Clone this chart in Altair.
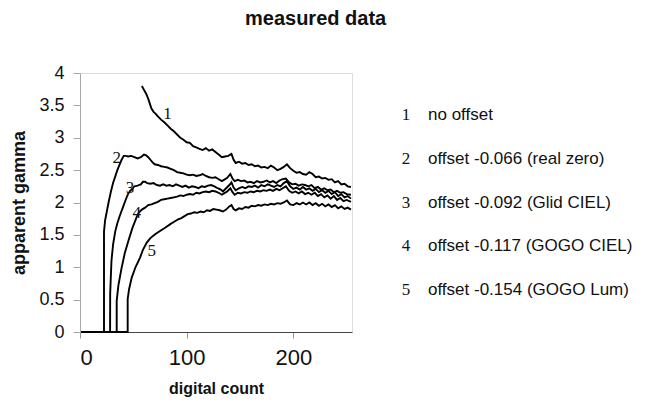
import altair as alt
import pandas as pd

# ---- data ----
c1_x = [58, 60, 62, 64, 66, 67, 69, 71, 73, 76, 79, 82, 85, 88, 91, 94, 97, 100, 103, 106, 109, 112, 115, 118,
        121, 124, 127, 130, 133, 136, 139, 142, 144, 146, 149, 152, 155, 158, 161, 164, 167, 170, 173, 176,
        179, 182, 185, 188, 191, 194, 197, 200, 203, 206, 209, 212, 215, 218, 221, 224, 227, 230, 233, 236,
        239, 242, 245, 248, 251, 254]
c1_y = [3.80, 3.74, 3.68, 3.60, 3.50, 3.45, 3.40, 3.37, 3.33, 3.28, 3.24, 3.19, 3.14, 3.10, 3.05, 3.00, 2.97,
        2.93, 2.92, 2.87, 2.85, 2.83, 2.81, 2.84, 2.80, 2.82, 2.78, 2.74, 2.70, 2.71, 2.72, 2.75, 2.66, 2.61,
        2.63, 2.60, 2.61, 2.58, 2.59, 2.56, 2.57, 2.54, 2.55, 2.53, 2.57, 2.54, 2.50, 2.52, 2.55, 2.59, 2.53,
        2.49, 2.46, 2.47, 2.44, 2.43, 2.47, 2.44, 2.39, 2.40, 2.37, 2.38, 2.35, 2.36, 2.31, 2.33, 2.28, 2.29,
        2.25, 2.24]

c2_x = [1, 22.5, 22.5, 23.5, 25, 27, 29, 31, 33, 35, 37, 39, 41, 43, 45, 48, 51, 54, 57, 60, 62, 64, 66, 68,
        70, 73, 76, 79, 82, 85, 88, 91, 94, 97, 100, 103, 106, 109, 112, 115, 118, 121, 124, 127, 130, 133,
        135, 138, 141, 143, 145, 148, 151, 154, 157, 160, 163, 166, 169, 172, 175, 178, 181, 184, 187, 190,
        193, 196, 199, 202, 205, 208, 211, 214, 217, 220, 223, 226, 229, 232, 235, 238, 241, 244, 247, 250, 254]
c2_y = [0, 0, 1.55, 1.72, 1.85, 2.02, 2.17, 2.30, 2.40, 2.50, 2.58, 2.66, 2.72, 2.72, 2.71, 2.72, 2.70, 2.68,
        2.70, 2.74, 2.73, 2.70, 2.66, 2.62, 2.59, 2.58, 2.56, 2.55, 2.54, 2.52, 2.50, 2.47, 2.46, 2.45, 2.43,
        2.42, 2.43, 2.41, 2.42, 2.44, 2.41, 2.39, 2.38, 2.39, 2.36, 2.33, 2.35, 2.38, 2.44, 2.37, 2.33, 2.35,
        2.33, 2.34, 2.31, 2.32, 2.30, 2.33, 2.31, 2.32, 2.34, 2.31, 2.33, 2.30, 2.34, 2.36, 2.37, 2.31, 2.28,
        2.29, 2.26, 2.28, 2.27, 2.25, 2.27, 2.22, 2.24, 2.20, 2.22, 2.19, 2.20, 2.16, 2.18, 2.15, 2.16, 2.13,
        2.12]

c3_x = [1, 28.2, 28.3, 29.5, 31, 33, 35, 37, 39, 41, 43, 45, 47, 49, 51, 54, 57, 59, 61, 63, 66, 69, 72, 75,
        78, 81, 84, 87, 90, 93, 96, 99, 102, 105, 108, 111, 114, 117, 120, 123, 126, 129, 132, 134, 137, 140,
        142, 144, 146, 149, 152, 155, 158, 161, 164, 167, 170, 173, 176, 179, 182, 185, 188, 191, 194, 197,
        200, 203, 206, 209, 212, 215, 218, 221, 224, 227, 230, 233, 236, 239, 242, 245, 248, 251, 254]
c3_y = [0, 0, 0.60, 1.10, 1.35, 1.55, 1.68, 1.78, 1.87, 1.96, 2.05, 2.13, 2.18, 2.21, 2.25, 2.26, 2.28, 2.32,
        2.32, 2.30, 2.29, 2.30, 2.27, 2.26, 2.28, 2.26, 2.27, 2.25, 2.28, 2.26, 2.24, 2.26, 2.23, 2.25, 2.24,
        2.22, 2.25, 2.24, 2.26, 2.27, 2.25, 2.22, 2.20, 2.17, 2.22, 2.27, 2.31, 2.23, 2.19, 2.22, 2.24, 2.22,
        2.25, 2.24, 2.26, 2.23, 2.27, 2.25, 2.28, 2.26, 2.24, 2.27, 2.25, 2.30, 2.33, 2.25, 2.21, 2.23, 2.20,
        2.24, 2.20, 2.22, 2.18, 2.21, 2.16, 2.19, 2.15, 2.18, 2.13, 2.16, 2.10, 2.13, 2.08, 2.10, 2.06]

c4_x = [1, 34.4, 34.4, 36, 39, 42, 45.4, 49, 53, 55, 58, 61, 64, 67, 70, 73, 76, 79, 82, 85, 88, 91, 94, 97,
        100, 103, 106, 109, 112, 115, 118, 121, 124, 127, 130, 133, 135, 138, 141, 143, 145, 148, 151, 154,
        157, 160, 163, 166, 169, 172, 175, 178, 181, 184, 187, 190, 193, 196, 199, 202, 205, 208, 211, 214,
        217, 220, 223, 226, 229, 232, 235, 238, 241, 244, 247, 250, 254]
c4_y = [0, 0, 0.48, 0.72, 0.99, 1.22, 1.41, 1.60, 1.77, 1.84, 1.89, 1.92, 1.96, 1.97, 1.99, 2.01, 2.04, 2.05,
        2.06, 2.07, 2.08, 2.09, 2.11, 2.10, 2.12, 2.13, 2.12, 2.15, 2.14, 2.16, 2.17, 2.16, 2.18, 2.17, 2.15,
        2.12, 2.14, 2.17, 2.22, 2.16, 2.12, 2.15, 2.14, 2.16, 2.15, 2.17, 2.16, 2.18, 2.17, 2.19, 2.18, 2.20,
        2.18, 2.21, 2.19, 2.22, 2.25, 2.18, 2.15, 2.17, 2.14, 2.17, 2.13, 2.15, 2.12, 2.15, 2.10, 2.13, 2.08,
        2.11, 2.06, 2.10, 2.04, 2.07, 2.02, 2.04, 2.01]

c5_x = [1, 44.7, 44.7, 46, 48.5, 52, 56.3, 59, 62.6, 66, 70.4, 75, 79.8, 85, 89, 92, 95, 98, 101, 104, 107,
        110, 113, 116, 119, 122, 125, 128, 131, 134, 137, 140, 142, 144, 146, 149, 152, 155, 158, 161, 164,
        167, 170, 173, 176, 179, 182, 185, 188, 191, 194, 197, 200, 203, 206, 209, 212, 215, 218, 221, 224,
        227, 230, 233, 236, 239, 242, 245, 248, 251, 254]
c5_y = [0, 0, 0.51, 0.66, 0.84, 1.00, 1.15, 1.27, 1.38, 1.45, 1.51, 1.56, 1.61, 1.67, 1.71, 1.74, 1.76, 1.79,
        1.82, 1.83, 1.85, 1.84, 1.86, 1.85, 1.88, 1.87, 1.90, 1.89, 1.88, 1.86, 1.89, 1.94, 1.96, 1.90, 1.88,
        1.91, 1.90, 1.93, 1.92, 1.95, 1.94, 1.96, 1.95, 1.97, 1.96, 1.98, 1.97, 1.99, 1.98, 2.00, 2.03, 1.97,
        1.96, 1.99, 1.97, 2.00, 1.97, 2.00, 1.96, 1.99, 1.95, 1.98, 1.94, 1.97, 1.93, 1.96, 1.91, 1.94, 1.90,
        1.92, 1.89]

series_ids = ["1", "2", "3", "4", "5"]
legend_text = ["no offset", "offset -0.066 (real zero)", "offset -0.092 (Glid CIEL)",
               "offset -0.117 (GOGO CIEL)", "offset -0.154 (GOGO Lum)"]
label_x = [82.0, 34.5, 46.9, 53.2, 67.3]
label_y = [3.37, 2.69, 2.23, 1.84, 1.25]

x_ticks = [0, 100, 200]
y_ticks = [0, 0.5, 1, 1.5, 2, 2.5, 3, 3.5, 4]

# ---- tables ----
rows = []
for sid, xs_, ys_ in zip(series_ids, [c1_x, c2_x, c3_x, c4_x, c5_x], [c1_y, c2_y, c3_y, c4_y, c5_y]):
    for i, (a, b) in enumerate(zip(xs_, ys_)):
        rows.append({"series": sid, "i": i, "x": a, "y": b})
df = pd.DataFrame(rows)
lab = pd.DataFrame({"series": series_ids, "x": label_x, "y": label_y})
leg = pd.DataFrame({"series": series_ids, "text": legend_text})

xs = alt.Scale(domain=[0, 255], nice=False, zero=False)
ys = alt.Scale(domain=[0, 4], nice=False)

x_axis = alt.Axis(
    values=x_ticks, title="digital count", grid=False,
    domainColor="#444", tickColor="#999", tickSize=6,
    labelFontSize=22, labelPadding=9, labelFont="Liberation Sans", labelColor="#111",
    labelOverlap=False,
    titleFont="Liberation Sans", titleFontSize=16, titleFontWeight="bold", titlePadding=12,
    titleColor="#111")
y_axis = alt.Axis(
    values=y_ticks, format="~g", title="apparent gamma", grid=False,
    domainColor="#aaa", tickColor="#aaa", tickSize=7,
    labelFontSize=18, labelPadding=9, labelFont="Liberation Sans", labelColor="#111",
    labelOverlap=False,
    titleFont="Liberation Sans", titleFontSize=18, titleFontWeight="bold", titlePadding=10,
    titleColor="#111")

lines = alt.Chart(df).mark_line(color="black", strokeWidth=1.9).encode(
    x=alt.X("x:Q", scale=xs, axis=x_axis),
    y=alt.Y("y:Q", scale=ys, axis=y_axis),
    detail="series:N",
    order="i:Q",
)

labels = alt.Chart(lab).mark_text(font="Liberation Serif", fontSize=17, color="#111").encode(
    x=alt.X("x:Q", scale=xs, axis=x_axis),
    y=alt.Y("y:Q", scale=ys, axis=y_axis),
    text="series:N")

plot = alt.layer(lines, labels).properties(width=272, height=259)

ly = alt.Y("series:N", scale=alt.Scale(type="point", padding=0.95), axis=None)
nums = alt.Chart(leg).mark_text(font="Liberation Serif", fontSize=17, color="#111").encode(
    x=alt.value(30), y=ly, text="series:N")
texts = alt.Chart(leg).mark_text(font="Liberation Sans", fontSize=17, align="left", color="#111").encode(
    x=alt.value(52), y=ly, text="text:N")
legend = alt.layer(nums, texts).properties(
    width=230, height=259, view=alt.ViewConfig(stroke="transparent", strokeWidth=0))

chart = alt.hconcat(plot, legend, spacing=20).properties(
    title=alt.TitleParams("measured data", font="Liberation Sans", fontSize=20, fontWeight="bold",
                          anchor="start", frame="group", dx=165, offset=35, color="#111"),
    padding={"left": 10, "top": 8, "right": 0, "bottom": 0},
).configure_view(stroke="transparent", strokeWidth=0).configure(background="white")

chart.save("out.html", embed_options={"renderer": "svg", "actions": False})
